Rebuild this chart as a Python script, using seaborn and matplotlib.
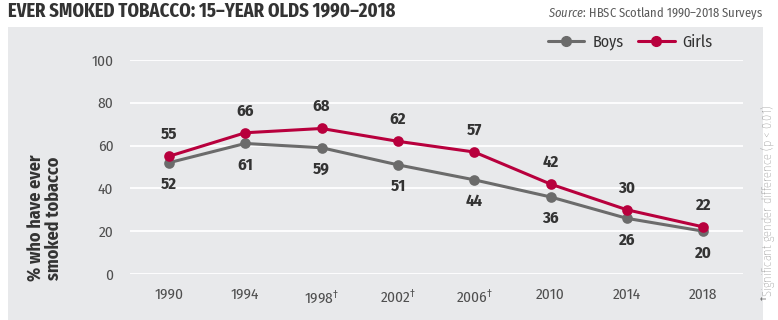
import matplotlib
matplotlib.use("Agg")
import matplotlib.pyplot as plt
from matplotlib.lines import Line2D
from matplotlib.patches import Rectangle
import seaborn as sns
import pandas as pd

# Survey years and share of 15-year olds who have ever smoked (%)
years = ["1990", "1994", "1998", "2002", "2006", "2010", "2014", "2018"]
year_labels = ["1990", "1994", "1998$^{\\dagger}$", "2002$^{\\dagger}$",
               "2006$^{\\dagger}$", "2010", "2014", "2018"]
boys = [52, 61, 59, 51, 44, 36, 26, 20]
girls = [55, 66, 68, 62, 57, 42, 30, 22]
y_ticks = [0, 20, 40, 60, 80, 100]

BG = "#e8e9eb"
BOYS_C = "#6b6b6b"
GIRLS_C = "#b8003d"
TEXT_C = "#333333"
TICK_C = "#4f4f4f"

sns.set_theme(style="white")
FONT = ["Fira Sans Condensed", "DejaVu Sans"]
plt.rcParams["font.family"] = FONT
plt.rcParams["mathtext.fontset"] = "custom"
plt.rcParams["mathtext.rm"] = "Fira Sans Condensed"
plt.rcParams["mathtext.it"] = "Fira Sans Condensed:italic"

df = pd.DataFrame({
    "year": years * 2,
    "pct": boys + girls,
    "sex": ["Boys"] * len(years) + ["Girls"] * len(years),
})

fig = plt.figure(figsize=(7.78, 3.2), dpi=100)
fig.patch.set_facecolor("white")
panel = Rectangle((8 / 778, 0), (763 - 8) / 778, (320 - 27) / 320,
                  transform=fig.transFigure, facecolor=BG,
                  edgecolor="none", zorder=-10)
fig.add_artist(panel)

ax = fig.add_axes([130 / 778, 46 / 320, 613 / 778, 214 / 320])
ax.set_facecolor(BG)
ax.patch.set_alpha(0)

sns.pointplot(data=df, x="year", y="pct", hue="sex", order=years,
              hue_order=["Boys", "Girls"],
              palette={"Boys": BOYS_C, "Girls": GIRLS_C},
              markers="o", linestyles="-", markersize=6, linewidth=2.2,
              errorbar=None, ax=ax, legend=False)
for coll in ax.collections:
    coll.set_clip_on(False)
for ln in ax.lines:
    ln.set_clip_on(False)

ax.set_xlim(-0.51, 7.52)
ax.set_ylim(0, 100)
ax.set_yticks(y_ticks)
ax.set_xticks(range(len(years)))
ax.set_xticklabels(year_labels)
ax.tick_params(axis="both", length=0, labelsize=11, labelcolor=TICK_C)
ax.tick_params(axis="y", pad=12)
ax.tick_params(axis="x", pad=10)
ax.grid(axis="y", color="white", linewidth=1.3)
ax.set_axisbelow(True)
for s in ax.spines.values():
    s.set_visible(False)
ax.set_xlabel("")
ax.set_ylabel("")

# Value labels: girls above, boys below
for i, (b, g) in enumerate(zip(boys, girls)):
    ax.annotate(str(g), (i, g), xytext=(0, 10), textcoords="offset points",
                ha="center", va="bottom", fontsize=12, fontweight="bold",
                color=TEXT_C)
    ax.annotate(str(b), (i, b), xytext=(0, -10), textcoords="offset points",
                ha="center", va="top", fontsize=12, fontweight="bold",
                color=TEXT_C)

# Titles and notes
fig.text(8 / 778, 1 - 16 / 320, "EVER SMOKED TOBACCO: 15–YEAR OLDS 1990–2018",
         ha="left", va="baseline", fontsize=14.5, fontweight="bold",
         family=["Fira Sans Extra Condensed", "DejaVu Sans"], color=TEXT_C)
fig.text(763 / 778, 1 - 17 / 320, "$\\it{Source}$: HBSC Scotland 1990–2018 Surveys",
         ha="right", va="baseline", fontsize=9, color="#5a5a5a")
fig.text(45 / 778, 1 - 218 / 320, "% who have ever\nsmoked tobacco",
         rotation=90, ha="center", va="center", fontsize=13,
         fontweight="bold", color=TEXT_C, linespacing=1.0)
fig.text(769 / 778, 1 - 203 / 320, "$^{\\dagger}$Significant gender difference (p < 0.01)",
         rotation=90, ha="center", va="center", fontsize=9,
         fontweight="light", color="#666666")

handles = [Line2D([], [], color=BOYS_C, marker="o", markersize=7, linewidth=2.2),
           Line2D([], [], color=GIRLS_C, marker="o", markersize=7, linewidth=2.2)]
leg = fig.legend(handles, ["Boys", "Girls"], ncol=2, frameon=False,
                 loc="center right", bbox_to_anchor=(727 / 778, 1 - 42 / 320),
                 fontsize=11.5, labelcolor=TEXT_C, handlelength=2.3,
                 handletextpad=0.5, columnspacing=0.9)

fig.savefig("out.png", dpi=100, facecolor="white")
